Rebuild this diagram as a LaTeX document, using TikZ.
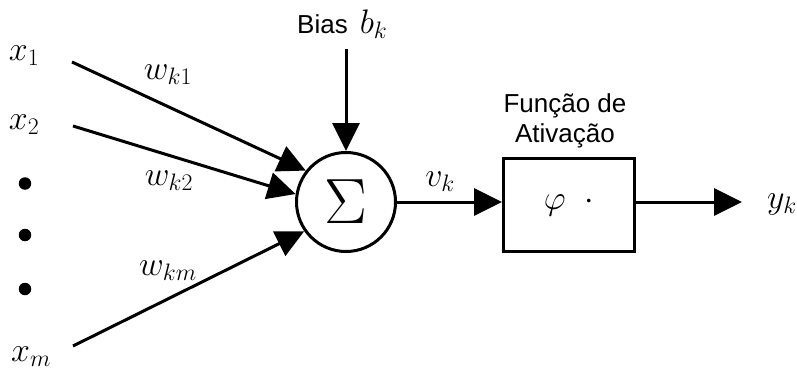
\RequirePackage{fix-cm}
\documentclass[tikz,border=0pt]{standalone}
\usepackage{fontspec}
\setsansfont{Liberation Sans}
\usetikzlibrary{arrows.meta}

\begin{document}
\begin{tikzpicture}[
  x=1pt,
  y=-1pt,
  symbol/.style={font=\fontsize{34}{36}\selectfont, inner sep=0pt},
  caption/.style={font=\fontsize{26}{30}\selectfont\sffamily, align=center, inner sep=0pt},
  summer/.style={
    circle,
    draw=black,
    line width=3pt,
    minimum size=99pt,
    inner sep=0pt,
    font=\fontsize{64}{64}\selectfont
  },
  activation/.style={
    rectangle,
    draw=black,
    line width=3pt,
    minimum width=131pt,
    minimum height=93pt,
    inner sep=0pt,
    font=\fontsize{34}{36}\selectfont
  },
  dotnode/.style={circle, fill=black, minimum size=12.5pt, inner sep=0pt},
  signal/.style={line width=3pt, -{Triangle[length=28pt, width=27pt]}}
]
\useasboundingbox (0,0) rectangle (797,372);

\node[summer] (sum) at (346,202) {$\Sigma$};
\node[activation] (act) at (569,205) {$\varphi\;\;\cdot$};

% inputs
\node[symbol] (x1) at (24,56) {$x_1$};
\node[symbol] (x2) at (24,125) {$x_2$};
\node[dotnode] (d1) at (25,183.5) {};
\node[dotnode] (d2) at (25,235) {};
\node[dotnode] (d3) at (25,289) {};
\node[symbol] (xm) at (31,357) {$x_m$};

\coordinate (s1) at (72,62);
\coordinate (s2) at (73,126);
\coordinate (sm) at (73,346);

\draw[signal] (s1) -- (sum.142);
\draw[signal] (s2) -- (sum.171);
\draw[signal] (sm) -- (sum.215);

\node[symbol] (wk1) at (168,75) {$w_{k1}$};
\node[symbol] (wk2) at (169,181) {$w_{k2}$};
\node[symbol] (wkm) at (168,271) {$w_{km}$};

% bias
\node[caption, anchor=base west] (bias) at (297,33)
  {Bias\hspace{12pt}{\fontsize{34}{36}\selectfont$b_k$}};
\coordinate (bin) at (346,49);
\draw[signal] (bin) -- (sum.north);

% activation and output
\draw[signal] (sum.east) -- (sum.east -| act.west);
\node[symbol] (vk) at (440,182) {$v_k$};
\node[caption] (fname) at (565,121) {Função de\\Ativação};

\coordinate (yout) at (742,202);
\draw[signal] (sum.east -| act.east) -- (yout);
\node[symbol] (yk) at (782,204) {$y_k$};

\end{tikzpicture}
\end{document}
